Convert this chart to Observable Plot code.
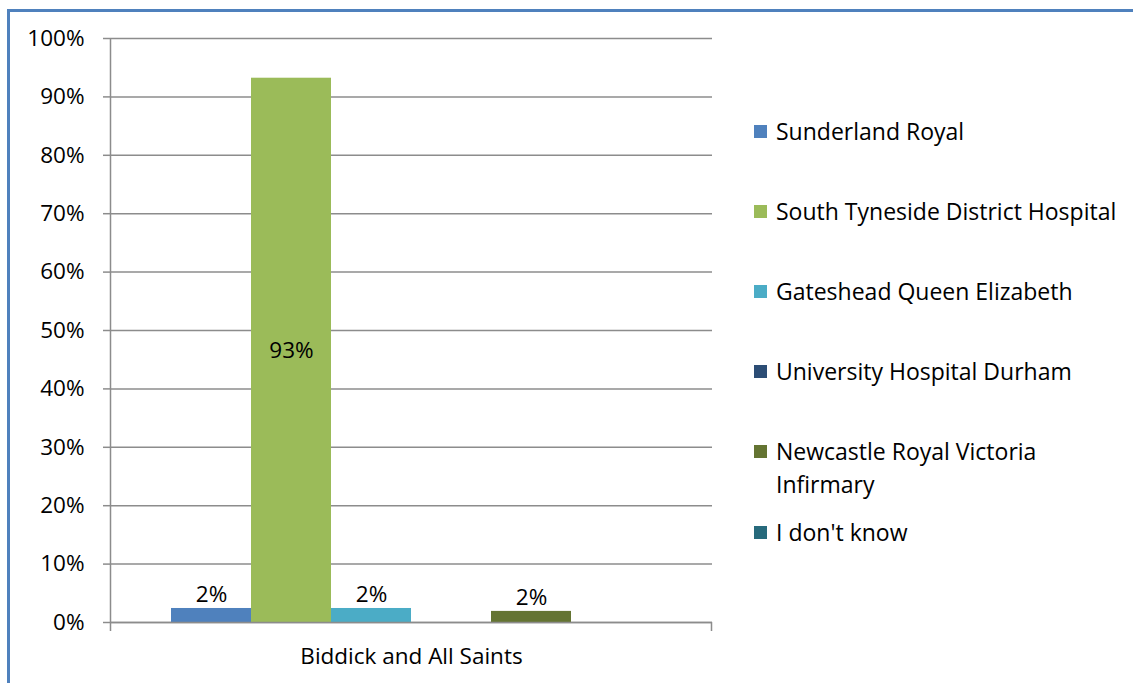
<!DOCTYPE html>
<html>
<head>
<meta charset="utf-8">
<script src="https://cdn.jsdelivr.net/npm/d3@7"></script>
<script src="https://cdn.jsdelivr.net/npm/@observablehq/plot@0.6"></script>
<style>
  html, body { margin: 0; padding: 0; background: #fff; }
  body { width: 1133px; height: 683px; position: relative; overflow: hidden; font-family: "Open Sans", sans-serif; }
  #border { position: absolute; left: 7px; top: 9px; right: -10px; bottom: -10px; border-left: 3px solid #4f81bd; border-top: 3px solid #4f81bd; }
  #chart { position: absolute; left: 0; top: 0; }
  #legend { position: absolute; left: 754px; top: 0; }
  .item { position: absolute; left: 0; display: flex; align-items: flex-start; width: 380px; }
  .sw { width: 13px; height: 13px; flex: none; margin-top: 10px; }
  .lab { margin-left: 9px; font-size: 23px; line-height: 33px; color: #000; width: 352px; }
</style>
</head>
<body>
<div id="border"></div>
<div id="chart"></div>
<div id="legend"></div>
<script>
const category = ["Biddick and All Saints"];
const hospitals = [
  "Sunderland Royal",
  "South Tyneside District Hospital",
  "Gateshead Queen Elizabeth",
  "University Hospital Durham",
  "Newcastle Royal Victoria Infirmary",
  "I don't know"
];
const shares = [0.024, 0.932, 0.024, 0, 0.019, 0];
const valueLabels = ["2%", "93%", "2%", "", "2%", ""];
const colors = ["#4f81bd", "#9bbb59", "#4bacc6", "#2c4d75", "#647432", "#276a7c"];
const yTicks = [0, 0.1, 0.2, 0.3, 0.4, 0.5, 0.6, 0.7, 0.8, 0.9, 1.0];

const data = hospitals.map((h, i) => ({hospital: h, share: shares[i], label: valueLabels[i], category: category[0]}));
const gray = "#8c8c8c";
const fs = 22.5;

const edgeTicks = (index, scales, values, dims) => {
  const g = d3.create("svg:g");
  const x0 = dims.marginLeft, x1 = dims.width - dims.marginRight;
  const yb = dims.height - dims.marginBottom;
  g.append("path")
    .attr("d", `M${x0 + 0.5},${dims.marginTop}V${yb + 9}M${x1 - 0.5},${yb}V${yb + 9}`)
    .attr("stroke", gray).attr("stroke-width", 1.5).attr("fill", "none");
  return g.node();
};

const chart = Plot.plot({
  width: 1133,
  height: 683,
  marginLeft: 110,
  marginRight: 421,
  marginTop: 38,
  marginBottom: 61,
  style: {fontFamily: "'Open Sans', sans-serif", fontSize: fs + "px", color: "#000", background: "transparent"},
  x: {domain: hospitals, paddingInner: 0, paddingOuter: 0.747, axis: null},
  y: {domain: [0, 1], label: null},
  color: {domain: hospitals, range: colors},
  marks: [
    Plot.gridY(yTicks, {stroke: gray, strokeOpacity: 1, strokeWidth: 1.5}),
    Plot.axisY(yTicks, {tickFormat: d3.format(".0%"), tickSize: 7, tickPadding: 19, stroke: gray, strokeWidth: 1.5, fontSize: fs, fill: "#000", label: null}),
    Plot.barY(data, {x: "hospital", y: "share", fill: "hospital", inset: 0}),
    Plot.ruleY([0], {stroke: gray, strokeWidth: 1.5}),
    edgeTicks,
    Plot.text(data.filter(d => d.label && d.share < 0.5), {x: "hospital", y: "share", text: "label", dy: -14, fontSize: fs, fill: "#000"}),
    Plot.text(data.filter(d => d.label && d.share >= 0.5), {x: "hospital", y: d => d.share / 2, text: "label", fontSize: fs, fill: "#000"}),
    Plot.text(category, {frameAnchor: "bottom", dy: 41, text: d => d, fontSize: fs, fill: "#000"})
  ]
});
document.getElementById("chart").appendChild(chart);

const legend = d3.select("#legend");
hospitals.forEach((h, i) => {
  const item = legend.append("div").attr("class", "item").style("top", (131 - 16.5 + i * 80.2) + "px");
  item.append("div").attr("class", "sw").style("background", colors[i]);
  item.append("div").attr("class", "lab").text(h);
});
</script>
</body>
</html>
